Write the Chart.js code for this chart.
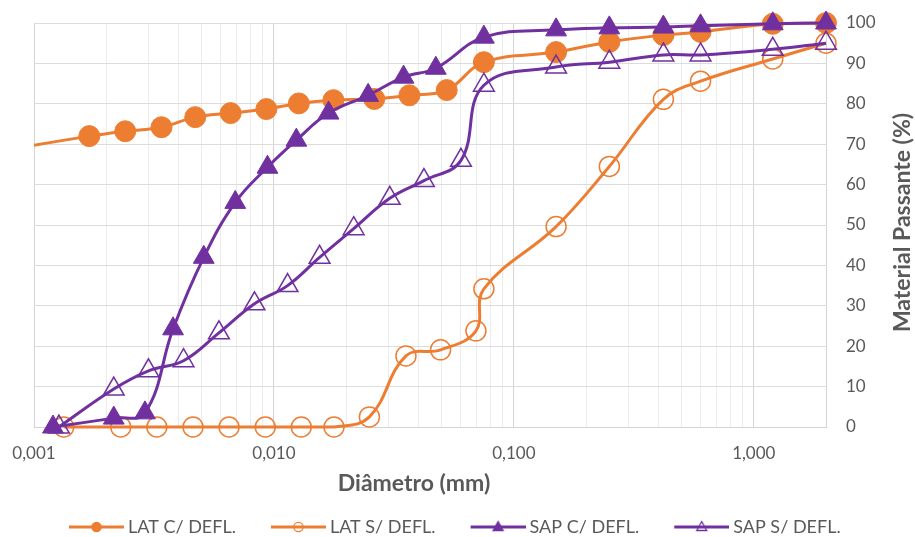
<!DOCTYPE html>
<html>
<head>
<meta charset="utf-8">
<script src="https://cdn.jsdelivr.net/npm/chart.js@4.4.1/dist/chart.umd.min.js"></script>
<style>
  html, body { margin: 0; padding: 0; background: #fff; }
  #wrap { width: 915px; height: 537px; }
</style>
</head>
<body>
<div id="wrap"><canvas id="granChart"></canvas></div>
<script>
// diameters (mm) and % passing
const latComX = [0.0006, 0.0017, 0.0024, 0.0034, 0.0047, 0.0066, 0.0093, 0.0127, 0.0177, 0.0262, 0.0367, 0.0525, 0.075, 0.15, 0.25, 0.42, 0.6, 1.2, 2.0];
const latComY = [67.5, 72.0, 73.2, 74.2, 76.7, 77.7, 78.7, 80.1, 80.9, 81.2, 82.1, 83.4, 90.3, 92.8, 95.3, 97.0, 97.8, 99.8, 100];

const latSemX = [0.00133, 0.0023, 0.00325, 0.0046, 0.0065, 0.0092, 0.013, 0.0178, 0.025, 0.0355, 0.0495, 0.0695, 0.075, 0.15, 0.25, 0.42, 0.6, 1.2, 2.0];
const latSemY = [0, 0, 0, 0, 0, 0, 0, 0, 2.5, 17.6, 19.1, 23.8, 34.2, 49.6, 64.5, 81.1, 85.6, 91.1, 95.0];

const sapComX = [0.0012, 0.00215, 0.0029, 0.0038, 0.0051, 0.0069, 0.0094, 0.0124, 0.0169, 0.0247, 0.0347, 0.0473, 0.075, 0.15, 0.25, 0.42, 0.6, 1.2, 2.0];
const sapComY = [0, 2.2, 3.5, 24.3, 42, 55.6, 64.3, 71, 77.7, 82.1, 86.6, 88.8, 96.5, 98.3, 98.8, 99.0, 99.3, 99.8, 100];

const sapSemX = [0.00127, 0.00215, 0.003, 0.0042, 0.0059, 0.0083, 0.0114, 0.0155, 0.0215, 0.0304, 0.0422, 0.0602, 0.075, 0.15, 0.25, 0.42, 0.6, 1.2, 2.0];
const sapSemY = [0, 9.4, 13.9, 16.4, 23.3, 30.5, 35.0, 42.0, 49.1, 56.6, 61.0, 66.0, 84.6, 89.1, 90.3, 92.1, 92.1, 93.5, 95.0];

const seriesNames = ['LAT C/ DEFL.', 'LAT S/ DEFL.', 'SAP C/ DEFL.', 'SAP S/ DEFL.'];
const decadeTicks = [0.001, 0.01, 0.1, 1];
const decadeLabels = ['0,001', '0,010', '0,100', '1,000'];
const xTitle = 'Diâmetro (mm)';
const yTitle = 'Material Passante (%)';

const ORANGE = '#ED7D31';
const PURPLE = '#7030A0';
const TEXT = '#595959';
const NONE = 'rgba(0,0,0,0)';

// grid lines at 1..9 of every decade, up to 2 mm
const xGridTicks = [];
decadeTicks.forEach(d => {
    for (let k = 1; k <= 9; k++) {
        const v = +(d * k).toPrecision(3);
        if (v <= 2) xGridTicks.push(v);
    }
});

const pts = (xs, ys) => xs.map((x, i) => ({x: x, y: ys[i]}));

// legend icon: short line with the marker on it; blank left part = gap between items
function legendIcon(color, shape, filled) {
    const c = document.createElement('canvas');
    c.width = 93; c.height = 16;
    const g = c.getContext('2d');
    g.strokeStyle = color;
    g.lineWidth = 3;
    g.beginPath(); g.moveTo(38, 8); g.lineTo(93, 8); g.stroke();
    g.lineWidth = 1.3;
    g.fillStyle = color;
    g.beginPath();
    if (shape === 'circle') {
        g.arc(65.5, 8, 4.6, 0, Math.PI * 2);
    } else {
        g.moveTo(65.5, 2.5); g.lineTo(70.5, 11.5); g.lineTo(60.5, 11.5); g.closePath();
    }
    if (filled) g.fill();
    g.stroke();
    return c;
}

const axisTitles = {
    id: 'axisTitles',
    afterDraw(chart) {
        const {ctx, chartArea} = chart;
        ctx.save();
        ctx.fillStyle = TEXT;
        ctx.textAlign = 'center';
        ctx.textBaseline = 'middle';
        ctx.font = 'bold 23px Lato';
        ctx.fillText(xTitle, (chartArea.left + chartArea.right) / 2 - 16, chartArea.bottom + 57);
        ctx.translate(chartArea.right + 77, (chartArea.top + chartArea.bottom) / 2 - 2.5);
        ctx.rotate(-Math.PI / 2);
        ctx.fillText(yTitle, 0, 0);
        ctx.restore();
    }
};

const ctx = document.getElementById('granChart').getContext('2d');
new Chart(ctx, {
    type: 'line',
    data: {
        datasets: [{
            label: seriesNames[0],
            data: pts(latComX, latComY),
            borderColor: ORANGE,
            backgroundColor: ORANGE,
            borderWidth: 3,
            pointStyle: 'circle',
            pointRadius: 10.5,
            pointBorderWidth: 1,
            clip: {left: 0, top: 15, right: 15, bottom: 15},
            order: 3
        }, {
            label: seriesNames[1],
            data: pts(latSemX, latSemY),
            borderColor: ORANGE,
            backgroundColor: NONE,
            borderWidth: 3,
            pointStyle: 'circle',
            pointRadius: 10,
            pointBorderWidth: 1.5,
            clip: 15,
            order: 2
        }, {
            label: seriesNames[2],
            data: pts(sapComX, sapComY),
            borderColor: PURPLE,
            backgroundColor: PURPLE,
            borderWidth: 3,
            pointStyle: 'triangle',
            pointRadius: 12,
            pointBorderWidth: 1,
            clip: 15,
            order: 1
        }, {
            label: seriesNames[3],
            data: pts(sapSemX, sapSemY),
            borderColor: PURPLE,
            backgroundColor: NONE,
            borderWidth: 3,
            pointStyle: 'triangle',
            pointRadius: 12,
            pointBorderWidth: 1.5,
            clip: 15,
            order: 0
        }]
    },
    options: {
        responsive: true,
        maintainAspectRatio: false,
        animation: false,
        layout: {
            autoPadding: false,
            padding: {left: 34, top: 23, right: 34, bottom: -9}
        },
        elements: {
            line: {tension: 0.4}
        },
        plugins: {
            legend: {
                position: 'bottom',
                align: 'start',
                labels: {
                    color: TEXT,
                    font: {family: 'Lato', size: 18},
                    padding: 2,
                    usePointStyle: true,
                    pointStyleWidth: 83,
                    generateLabels(chart) {
                        return chart.data.datasets.map((ds, i) => ({
                            text: ds.label,
                            fontColor: TEXT,
                            datasetIndex: i,
                            lineWidth: 0,
                            pointStyle: legendIcon(ds.borderColor, ds.pointStyle, ds.backgroundColor !== NONE)
                        }));
                    }
                }
            },
            tooltip: {enabled: false}
        },
        scales: {
            x: {
                type: 'logarithmic',
                position: 'bottom',
                min: 0.001,
                max: 2,
                afterBuildTicks(scale) {
                    scale.ticks = xGridTicks.map(v => ({value: v}));
                },
                afterFit(scale) {
                    scale.height = 89;
                    scale.paddingLeft = 0;
                    scale.paddingRight = 0;
                },
                ticks: {
                    color: TEXT,
                    font: {family: 'Lato', size: 17},
                    padding: 16,
                    autoSkip: false,
                    maxRotation: 0,
                    callback(value) {
                        const i = decadeTicks.indexOf(+(+value).toPrecision(3));
                        return i >= 0 ? decadeLabels[i] : '';
                    }
                },
                grid: {
                    drawTicks: false,
                    color(c) {
                        const v = c.tick ? +(+c.tick.value).toPrecision(3) : 0;
                        return decadeTicks.includes(v) ? '#d4d4d4' : '#ececec';
                    }
                },
                border: {color: '#d4d4d4'}
            },
            y: {
                position: 'right',
                min: 0,
                max: 100,
                afterFit(scale) {
                    scale.width = 55;
                    scale.paddingTop = 0;
                    scale.paddingBottom = 0;
                },
                ticks: {
                    stepSize: 10,
                    color: TEXT,
                    font: {family: 'Lato', size: 17},
                    padding: 20
                },
                grid: {
                    drawTicks: false,
                    color: '#dcdcdc'
                },
                border: {color: '#d4d4d4'}
            }
        }
    },
    plugins: [axisTitles]
});
</script>
</body>
</html>
